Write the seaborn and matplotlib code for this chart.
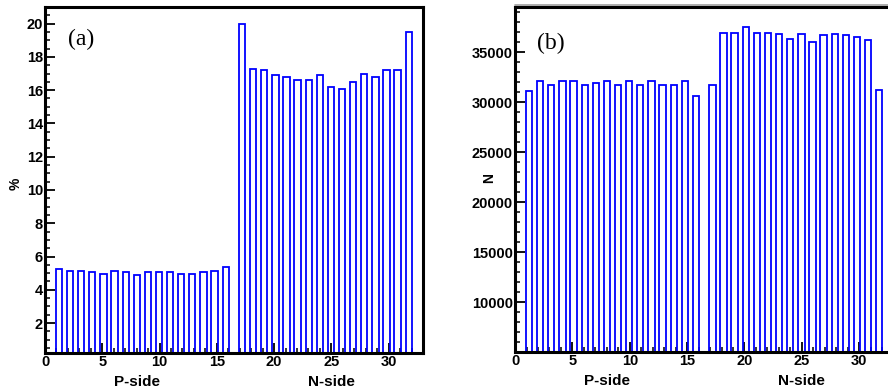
import numpy as np
import pandas as pd
import matplotlib
matplotlib.use("Agg")
import matplotlib.pyplot as plt
import seaborn as sns
from matplotlib.ticker import MultipleLocator
from matplotlib.transforms import blended_transform_factory

# ---- data ----
strips = list(range(1, 33))
side_labels = ["P-side", "N-side"]
side_label_x = [8, 25]
pct_values = [5.25, 5.15, 5.15, 5.05, 4.95, 5.15, 5.05, 4.9, 5.05, 5.05, 5.05, 4.95, 4.95, 5.05, 5.15, 5.35,
              20.0, 17.3, 17.2, 16.9, 16.8, 16.6, 16.6, 16.9, 16.2, 16.05, 16.5, 17.0, 16.8, 17.2, 17.2, 19.5]
count_values = [31100, 32100, 31700, 32100, 32100, 31700, 31900, 32100, 31700, 32100, 31700, 32100, 31700, 31700, 32100, 30600,
                31700, 36900, 36900, 37500, 36900, 36900, 36800, 36300, 36800, 36000, 36700, 36800, 36700, 36500, 36200, 31200]
panel_labels = ["(a)", "(b)"]
ylabels = ["%", "N"]

sns.set_style("white")
plt.rcParams["font.family"] = ["Liberation Sans", "DejaVu Sans"]
for k in ["text.color", "axes.labelcolor", "xtick.color", "ytick.color", "axes.edgecolor"]:
    plt.rcParams[k] = "black"

# layout of strips along the axis (two groups with a small gap)
s = np.array(strips)
pitch = 0.97
pos = np.where(s <= 16, 1.22 + (s - 1) * pitch, 17.2 + (s - 17) * pitch)
bar_w = 0.55 / pitch

df_a = pd.DataFrame({"pos": pos, "val": pct_values})
df_b = pd.DataFrame({"pos": pos, "val": count_values})

fig = plt.figure(figsize=(8.88, 3.92), dpi=100)
ax1 = fig.add_axes([0.0507, 0.0995, 0.4257, 0.8827])
ax2 = fig.add_axes([0.58, 0.102, 0.4263, 0.880])

for ax, df in [(ax1, df_a), (ax2, df_b)]:
    sns.barplot(data=df, x="pos", y="val", native_scale=True, fill=False,
                color="#0000ff", linewidth=1.3, width=bar_w, errorbar=None, ax=ax)
    ax.set_xlabel("")
    ax.set_ylabel("")
    ax.set_xlim(0, 33)
    ax.xaxis.set_major_locator(MultipleLocator(5))
    ax.xaxis.set_minor_locator(MultipleLocator(1))
    for sp in ax.spines.values():
        sp.set_linewidth(2.2)
        sp.set_color("black")
    ax.tick_params(axis="both", which="major", direction="in", length=7, width=1.3,
                   labelsize=10.5, pad=1.5, color="black", labelcolor="black")
    ax.tick_params(axis="both", which="minor", direction="in", length=3.6, width=1.1, color="black")
    ax.tick_params(top=False, right=False, which="both")
    ax.tick_params(bottom=True, left=True, which="both")
    trans = blended_transform_factory(ax.transData, ax.transAxes)
    for lab, xv in zip(side_labels, side_label_x):
        ax.text(xv, -0.083, lab, transform=trans, ha="center", va="center",
                fontsize=11, fontweight="bold", color="black")

ax1.set_ylim(0.2, 21.0)
ax1.yaxis.set_minor_locator(MultipleLocator(0.5))
ax1.set_yticks(np.arange(2, 21, 2))
ax1.set_yticklabels([str(v) for v in range(2, 21, 2)])

ax2.set_ylim(5000, 39500)
ax2.set_yticks(np.arange(10000, 35001, 5000))
ax2.set_yticklabels([str(v) for v in range(10000, 35001, 5000)])
ax2.yaxis.set_minor_locator(MultipleLocator(1000))

for ax in (ax1, ax2):
    ax.set_xticks(np.arange(0, 31, 5))
    ax.set_xticklabels([str(v) for v in range(0, 31, 5)])
    for t in ax.get_xticklabels() + ax.get_yticklabels():
        t.set_fontweight("bold")
        t.set_color("black")

# faint shadow line above the top frame of panel (b)
ax2.axhline(1.0, 0, 1, transform=ax2.transAxes) if False else None
ax2.plot([0, 1], [1.006, 1.006], transform=ax2.transAxes, color="#a0a0a0",
         linewidth=1.2, clip_on=False)

ax1.text(0.062, 0.905, panel_labels[0], transform=ax1.transAxes, fontsize=17,
         family=["Liberation Serif", "DejaVu Serif"], ha="left", va="center", color="black")
ax2.text(0.058, 0.895, panel_labels[1], transform=ax2.transAxes, fontsize=17,
         family=["Liberation Serif", "DejaVu Serif"], ha="left", va="center", color="black")

ax1.text(-0.079, 0.49, ylabels[0], transform=ax1.transAxes, rotation=90,
         ha="center", va="center", fontsize=10, fontweight="bold", color="black")
ax2.text(-0.069, 0.504, ylabels[1], transform=ax2.transAxes, rotation=90,
         ha="center", va="center", fontsize=10, fontweight="bold", color="black")

fig.savefig("out.png", dpi=100)
